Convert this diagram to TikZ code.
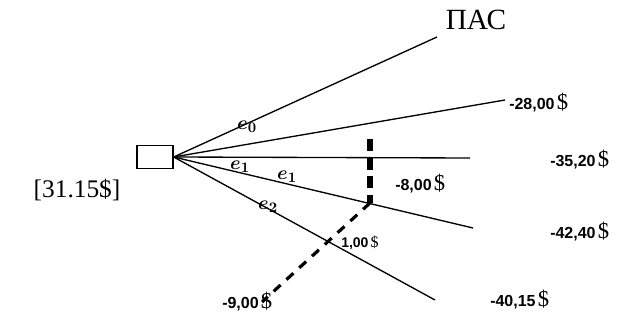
\documentclass[tikz,border=0pt]{standalone}
\usepackage{fontspec}
\setmainfont{Liberation Serif}
\newfontfamily\numfont{Liberation Sans}
\begin{document}
\begin{tikzpicture}[x=0.75pt,y=-0.75pt,
  branch/.style={line width=1pt},
  lbl/.style={inner sep=0pt,font=\fontsize{15}{15}\selectfont\boldmath},
  val/.style={inner sep=0pt,anchor=west},
  big/.style={inner sep=0pt,font=\fontsize{19}{19}\selectfont}]
\useasboundingbox (0,0) rectangle (625,328);
\node[draw,line width=1pt,minimum width=27pt,minimum height=17.5pt,inner sep=0pt] (box) at (155,157) {};
\coordinate (l0) at (437,37);
\coordinate (l1) at (505,100);
\coordinate (l2) at (470,158);
\coordinate (l3) at (473,228);
\coordinate (l4) at (435,300);
\draw[branch] (box.east) -- (l0);
\draw[branch] (box.east) -- (l1);
\draw[branch] (box.east) -- (l2);
\draw[branch] (box.east) -- (l3);
\draw[branch] (box.east) -- (l4);
\coordinate (d0) at (370,139);
\coordinate (d1) at (370,203);
\coordinate (d2) at (262,302);
\draw[line width=4pt,dash pattern=on 9pt off 5pt] (d0) -- (d1);
\draw[line width=2.4pt,dash pattern=on 7pt off 6pt] (d1) -- (d2);
\node[lbl] (e0) at (247,127) {$e_0$};
\node[lbl] (e1a) at (240,167) {$e_1$};
\node[lbl] (e1b) at (287,177) {$e_1$};
\node[lbl] (e2) at (268,207) {$e_2$};
\node[inner sep=0pt,font=\fontsize{22}{22}\selectfont] (pac) at (476,20) {ПАС};
\node[big] (root) at (77,190) {[31.15\$]};
\node[val] (v0) at (509,103) {{\numfont\bfseries\fontsize{12}{12}\selectfont -28,00}\,{\fontsize{17}{17}\selectfont\$}};
\node[val] (v1) at (550,160) {{\numfont\bfseries\fontsize{12}{12}\selectfont -35,20}\,{\fontsize{17}{17}\selectfont\$}};
\node[val] (v2) at (550,232) {{\numfont\bfseries\fontsize{12}{12}\selectfont -42,40}\,{\fontsize{17}{17}\selectfont\$}};
\node[val] (v3) at (490,300) {{\numfont\bfseries\fontsize{12}{12}\selectfont -40,15}\,{\fontsize{17}{17}\selectfont\$}};
\node[val] (v4) at (395,184) {{\numfont\bfseries\fontsize{12}{12}\selectfont -8,00}\,{\fontsize{17}{17}\selectfont\$}};
\node[val] (v5) at (341,243) {{\numfont\bfseries\fontsize{10.5}{11}\selectfont 1,00}\,{\fontsize{12}{12}\selectfont\$}};
\node[val] (v6) at (222,302) {{\numfont\bfseries\fontsize{12}{12}\selectfont -9,00}\,{\fontsize{17}{17}\selectfont\$}};
\end{tikzpicture}
\end{document}
